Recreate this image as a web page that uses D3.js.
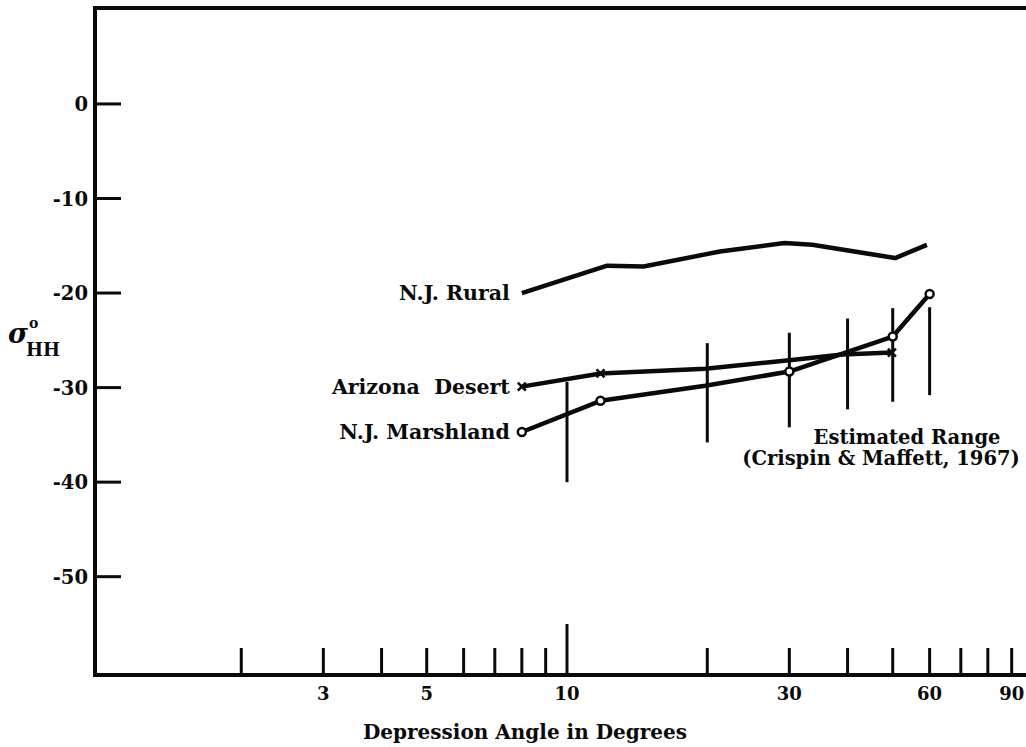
<!DOCTYPE html>
<html>
<head>
<meta charset="utf-8">
<script src="https://cdn.jsdelivr.net/npm/d3@7"></script>
<style>
  body { margin: 0; background: #fff; }
  text { font-family: "DejaVu Serif", serif; font-weight: bold; fill: #0a0a0a; }
</style>
</head>
<body>
<div id="graph"></div>
<script>
// depression angle ticks (log axis)
var degTicks = [2, 3, 4, 5, 6, 7, 8, 9, 10, 20, 30, 40, 50, 60, 70, 80, 90];
var degLabels = [3, 5, 10, 30, 60, 90];
var sigmaTicks = [0, -10, -20, -30, -40, -50];

// N.J. Rural
var ruralDeg = [8, 12.2, 14.6, 21.3, 29.3, 33.6, 50.6, 59.2];
var ruralSigma = [-20.0, -17.1, -17.2, -15.6, -14.7, -14.9, -16.3, -14.9];

// Arizona Desert (x markers at 8, 11.8, 49.8)
var desertDeg = [8, 11.8, 19.8, 30, 39, 49.8];
var desertSigma = [-29.9, -28.5, -28.0, -27.1, -26.5, -26.3];
var desertMarked = [0, 1, 5];

// N.J. Marshland (o markers)
var marshDeg = [8, 11.8, 19.8, 30, 50, 60];
var marshSigma = [-34.7, -31.4, -29.8, -28.3, -24.6, -20.1];
var marshMarked = [0, 1, 3, 4, 5];

// estimated range bars (Crispin & Maffett, 1967)
var rangeDeg = [10, 20, 30, 40, 50, 60];
var rangeHi = [-29.4, -25.3, -24.2, -22.7, -21.6, -21.5];
var rangeLo = [-40.0, -35.8, -34.2, -32.3, -31.5, -30.8];

var w = 1026, h = 747;
var frameLeft = 95, frameTop = 8, frameBottom = 675;

var x = d3.scaleLog().domain([1, 100]).range([101, 1033]);
var y = d3.scaleLinear().domain([-60.4, 10.15]).range([frameBottom, frameTop]);

var svg = d3.select('#graph').append('svg')
    .attr('width', w)
    .attr('height', h);

// frame: left, top, bottom (right side runs off the page)
svg.append('path')
    .attr('d', 'M' + w + ',' + frameTop + 'H' + frameLeft + 'V' + frameBottom + 'H' + w)
    .attr('fill', 'none')
    .attr('stroke', '#0a0a0a')
    .attr('stroke-width', 4)
    .attr('stroke-linejoin', 'miter');

// y ticks, pointing inward
svg.append('g')
    .selectAll('line')
    .data(sigmaTicks)
    .enter()
    .append('line')
    .attr('x1', frameLeft)
    .attr('x2', frameLeft + 26)
    .attr('y1', function(d) { return y(d); })
    .attr('y2', function(d) { return y(d); })
    .attr('stroke', '#0a0a0a')
    .attr('stroke-width', 3);

svg.append('g')
    .selectAll('text')
    .data(sigmaTicks)
    .enter()
    .append('text')
    .attr('x', frameLeft - 7)
    .attr('y', function(d) { return y(d) + 7; })
    .attr('text-anchor', 'end')
    .attr('font-size', '19.5px')
    .text(function(d) { return d; });

// x ticks, the one at 10 is longer
svg.append('g')
    .selectAll('line')
    .data(degTicks)
    .enter()
    .append('line')
    .attr('x1', function(d) { return x(d); })
    .attr('x2', function(d) { return x(d); })
    .attr('y1', frameBottom)
    .attr('y2', function(d) { return d == 10 ? frameBottom - 51 : frameBottom - 27; })
    .attr('stroke', '#0a0a0a')
    .attr('stroke-width', 3);

svg.append('g')
    .selectAll('text')
    .data(degLabels)
    .enter()
    .append('text')
    .attr('x', function(d) { return x(d); })
    .attr('y', frameBottom + 25)
    .attr('text-anchor', 'middle')
    .attr('font-size', '18px')
    .text(function(d) { return d; });

svg.append('text')
    .attr('x', 525)
    .attr('y', 739)
    .attr('text-anchor', 'middle')
    .attr('font-size', '20px')
    .text('Depression Angle in Degrees');

// y label: sigma^o_HH
var ylab = svg.append('g');
ylab.append('text')
    .attr('x', 8)
    .attr('y', 343)
    .attr('font-size', '27px')
    .style('font-style', 'italic')
    .text('\u03c3');
ylab.append('text')
    .attr('x', 29)
    .attr('y', 328)
    .attr('font-size', '14px')
    .text('o');
ylab.append('text')
    .attr('x', 26)
    .attr('y', 356)
    .attr('font-size', '18px')
    .text('HH');

// range bars
svg.append('g')
    .selectAll('line')
    .data(rangeDeg)
    .enter()
    .append('line')
    .attr('x1', function(d) { return x(d); })
    .attr('x2', function(d) { return x(d); })
    .attr('y1', function(d, i) { return y(rangeHi[i]); })
    .attr('y2', function(d, i) { return y(rangeLo[i]); })
    .attr('stroke', '#0a0a0a')
    .attr('stroke-width', 3);

// curves
var line = d3.line()
    .x(function(d) { return x(d[0]); })
    .y(function(d) { return y(d[1]); });

function pairs(a, b) { return a.map(function(d, i) { return [d, b[i]]; }); }

[[ruralDeg, ruralSigma], [desertDeg, desertSigma], [marshDeg, marshSigma]].forEach(function(s) {
  svg.append('path')
      .datum(pairs(s[0], s[1]))
      .attr('d', line)
      .attr('fill', 'none')
      .attr('stroke', '#0a0a0a')
      .attr('stroke-width', 4.5)
      .attr('stroke-linejoin', 'round');
});

// x markers
svg.append('g')
    .selectAll('path')
    .data(desertMarked)
    .enter()
    .append('path')
    .attr('d', function(i) {
      var cx = x(desertDeg[i]), cy = y(desertSigma[i]), r = 4;
      return 'M' + (cx - r) + ',' + (cy - r) + 'L' + (cx + r) + ',' + (cy + r) +
             'M' + (cx - r) + ',' + (cy + r) + 'L' + (cx + r) + ',' + (cy - r);
    })
    .attr('stroke', '#0a0a0a')
    .attr('stroke-width', 2.5);

// o markers
svg.append('g')
    .selectAll('circle')
    .data(marshMarked)
    .enter()
    .append('circle')
    .attr('cx', function(i) { return x(marshDeg[i]); })
    .attr('cy', function(i) { return y(marshSigma[i]); })
    .attr('r', 4)
    .attr('fill', '#fff')
    .attr('stroke', '#0a0a0a')
    .attr('stroke-width', 2.5);

// series labels
var labels = [['N.J. Rural', ruralSigma[0]], ['Arizona\u00a0 Desert', desertSigma[0]], ['N.J. Marshland', marshSigma[0]]];
svg.append('g')
    .selectAll('text')
    .data(labels)
    .enter()
    .append('text')
    .attr('x', x(8) - 12)
    .attr('y', function(d) { return y(d[1]) + 7; })
    .attr('text-anchor', 'end')
    .attr('font-size', '20.5px')
    .text(function(d) { return d[0]; });

svg.append('text')
    .attr('x', 907)
    .attr('y', 444)
    .attr('text-anchor', 'middle')
    .attr('font-size', '19.5px')
    .text('Estimated Range');
svg.append('text')
    .attr('x', 881)
    .attr('y', 465)
    .attr('text-anchor', 'middle')
    .attr('font-size', '19.5px')
    .text('(Crispin & Maffett, 1967)');
</script>
</body>
</html>
